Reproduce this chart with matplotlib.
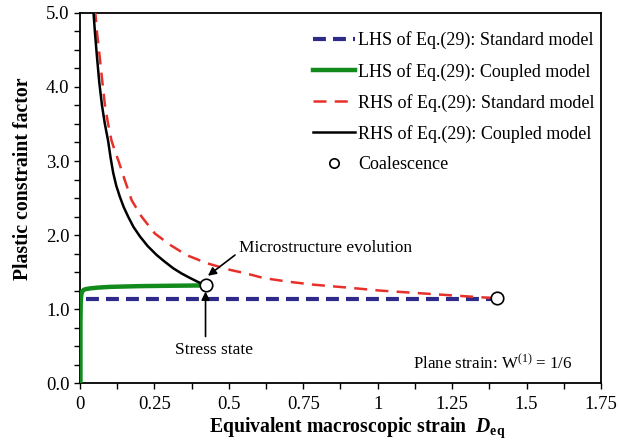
import matplotlib
matplotlib.use('Agg')
import matplotlib.pyplot as plt
from matplotlib.ticker import MultipleLocator, FixedFormatter, FixedLocator

plt.rcParams['font.family'] = ['Liberation Serif', 'DejaVu Serif']
plt.rcParams['mathtext.fontset'] = 'custom'
plt.rcParams['mathtext.rm'] = 'Liberation Serif'
plt.rcParams['mathtext.it'] = 'Liberation Serif:italic:bold'
plt.rcParams['mathtext.bf'] = 'Liberation Serif:bold'

# --- данные ---
lhs_std_x = [0.022, 1.40]
lhs_std_y = [1.14, 1.14]

lhs_cpl_x = [0.002, 0.002, 0.003, 0.005, 0.008, 0.013, 0.020, 0.035, 0.060,
             0.10, 0.20, 0.30, 0.422]
lhs_cpl_y = [0.0, 0.80, 1.12, 1.20, 1.24, 1.26, 1.27, 1.28, 1.29,
             1.30, 1.31, 1.315, 1.32]

rhs_std_x = [0.051, 0.058, 0.066, 0.075, 0.084, 0.094, 0.106, 0.119, 0.129,
             0.151, 0.174, 0.207, 0.252, 0.302, 0.358, 0.426, 0.504, 0.560,
             0.616, 0.700, 0.784, 0.900, 1.008, 1.120, 1.232, 1.344, 1.390]
rhs_std_y = [5.05, 4.72, 4.43, 4.09, 3.76, 3.52, 3.28, 3.12, 3.01,
             2.74, 2.47, 2.25, 2.02, 1.87, 1.73, 1.62, 1.53, 1.48,
             1.42, 1.37, 1.33, 1.29, 1.25, 1.22, 1.19, 1.16, 1.15]

rhs_cpl_x = [0.045, 0.051, 0.057, 0.065, 0.074, 0.084, 0.095, 0.103, 0.112,
             0.122, 0.134, 0.147, 0.162, 0.180, 0.202, 0.228, 0.258, 0.285,
             0.314, 0.342, 0.370, 0.395, 0.422]
rhs_cpl_y = [5.05, 4.72, 4.43, 4.07, 3.76, 3.50, 3.27, 3.05, 2.84,
             2.67, 2.52, 2.38, 2.25, 2.11, 1.98, 1.85, 1.73, 1.64,
             1.55, 1.48, 1.42, 1.37, 1.32]

coal_x = [0.422, 1.40]
coal_y = [1.325, 1.15]

x_ticks = [0, 0.25, 0.5, 0.75, 1, 1.25, 1.5, 1.75]
x_labels = ['0', '0.25', '0.5', '0.75', '1', '1.25', '1.5', '1.75']
y_ticks = [0, 1, 2, 3, 4, 5]
y_labels = ['0.0', '1.0', '2.0', '3.0', '4.0', '5.0']

fig = plt.figure(figsize=(6.19, 4.45), dpi=100)
ax = fig.add_axes([0.129, 0.139, 0.842, 0.832])

ax.plot(lhs_std_x, lhs_std_y, color='#2e2a8a', lw=3.0, ls=(0, (3.1, 1.7)),
        label='LHS of Eq.(29): Standard model', zorder=3)
ax.plot(lhs_cpl_x, lhs_cpl_y, color='#138a1c', lw=3.2,
        label='LHS of Eq.(29): Coupled model', zorder=3)
ax.plot(rhs_std_x, rhs_std_y, color='#e8302a', lw=1.8, ls=(0, (5.2, 3.3)),
        label='RHS of Eq.(29): Standard model', zorder=3)
ax.plot(rhs_cpl_x, rhs_cpl_y, color='black', lw=1.8,
        label='RHS of Eq.(29): Coupled model', zorder=4)
ax.plot(coal_x, coal_y, ls='none', marker='o', ms=9, mfc='white', mec='black',
        mew=1.2, label='Coalescence', zorder=5)

ax.set_xlim(0, 1.75)
ax.set_ylim(0, 5)
ax.xaxis.set_major_locator(FixedLocator(x_ticks))
ax.xaxis.set_major_formatter(FixedFormatter(x_labels))
ax.xaxis.set_minor_locator(MultipleLocator(0.125))
ax.yaxis.set_major_locator(FixedLocator(y_ticks))
ax.yaxis.set_major_formatter(FixedFormatter(y_labels))
ax.yaxis.set_minor_locator(MultipleLocator(0.25))
ax.tick_params(which='both', direction='out', length=4, width=1.0,
               labelsize=13.5, top=False, right=False)
ax.tick_params(axis='x', pad=5)
for s in ax.spines.values():
    s.set_linewidth(1.3)

ax.set_xlabel(r'Equivalent macroscopic strain  $\mathit{D}_{\mathbf{eq}}$',
              fontsize=14.2, fontweight='bold')
ax.set_ylabel('Plastic constraint factor', fontsize=14.2, fontweight='bold')
ax.xaxis.set_label_coords(0.532, -0.088)
ax.yaxis.set_label_coords(-0.09, 0.551)

leg = ax.legend(loc='upper right', bbox_to_anchor=(1.012, 0.984), fontsize=13,
                frameon=False, handlelength=2.3, handletextpad=0.2,
                labelspacing=0.73, markerscale=0.75, borderaxespad=0.3)

# подписи со стрелками
ax.annotate('', xy=(0.430, 1.45), xytext=(0.521, 1.73),
            arrowprops=dict(arrowstyle='-|>', color='black', lw=1.2,
                            mutation_scale=12, shrinkA=0, shrinkB=0))
ax.text(0.534, 1.83, 'Microstructure evolution', fontsize=12.5,
        ha='left', va='center')
ax.annotate('', xy=(0.422, 1.236), xytext=(0.422, 0.63),
            arrowprops=dict(arrowstyle='-|>', color='black', lw=1.2,
                            mutation_scale=12, shrinkA=0, shrinkB=0))
ax.text(0.452, 0.45, 'Stress state', fontsize=12.5, ha='center', va='center')
ax.text(1.119, 0.275, r'Plane strain: W$^{(1)}$ = 1/6', fontsize=12.2,
        ha='left', va='center')

fig.savefig('out.png', dpi=100)
